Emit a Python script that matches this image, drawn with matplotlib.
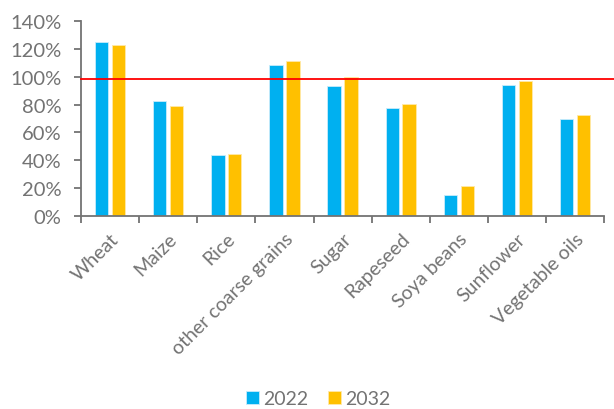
import numpy as np
import matplotlib.pyplot as plt
import matplotlib.ticker as ticker

# Data (self-sufficiency ratio)
categories = ['Wheat', 'Maize', 'Rice', 'other coarse grains', 'Sugar',
              'Rapeseed', 'Soya beans', 'Sunflower', 'Vegetable oils']
values_2022 = [1.25, 0.826, 0.44, 1.085, 0.935, 0.775, 0.153, 0.94, 0.693]
values_2032 = [1.232, 0.787, 0.447, 1.11, 0.998, 0.805, 0.213, 0.967, 0.722]
reference_level = 0.985

plt.rcParams['font.family'] = ['Lato', 'DejaVu Sans']
grey = '#737373'

fig = plt.figure(figsize=(6.14, 4.10), dpi=100)
ax = fig.add_axes([0.132, 0.471, 0.852, 0.475])

x = np.arange(len(categories))
w = 0.23
ax.bar(x - 0.145, values_2022, w, color='#00B0F0', label='2022',
       edgecolor='#c8ecfb', linewidth=0.6)
ax.bar(x + 0.145, values_2032, w, color='#FFC000', label='2032',
       edgecolor='#ffe9a8', linewidth=0.6)

ax.axhline(reference_level, xmin=0, xmax=1.02, color='red', lw=1.3, clip_on=False, zorder=3)

ax.set_xlim(-0.5, len(categories) - 0.5)
ax.set_ylim(0, 1.4)
ax.yaxis.set_major_locator(ticker.MultipleLocator(0.2))
ax.yaxis.set_major_formatter(ticker.FuncFormatter(lambda v, p: f"{v * 100:.0f}%"))

ax.set_xticks(x)
ax.set_xticklabels(categories, rotation=45, ha='right', rotation_mode='anchor')
ax.set_xticks(np.arange(-0.5, len(categories)), minor=True)
ax.tick_params(axis='x', which='major', length=0, pad=10, labelsize=14, colors=grey)
ax.tick_params(axis='x', which='minor', length=5, width=1.3, color=grey)
ax.tick_params(axis='y', length=5, width=1.3, pad=9, color=grey, labelsize=14.5, labelcolor=grey)

for s in ['top', 'right']:
    ax.spines[s].set_visible(False)
for s in ['left', 'bottom']:
    ax.spines[s].set_color(grey)
    ax.spines[s].set_linewidth(1.3)

fig.legend(loc='center', bbox_to_anchor=(0.518, 0.025), ncol=2, frameon=False,
           fontsize=14, labelcolor=grey, handlelength=0.7, handleheight=0.7,
           handletextpad=0.2, columnspacing=1.0)

fig.savefig('out.png', dpi=100)
